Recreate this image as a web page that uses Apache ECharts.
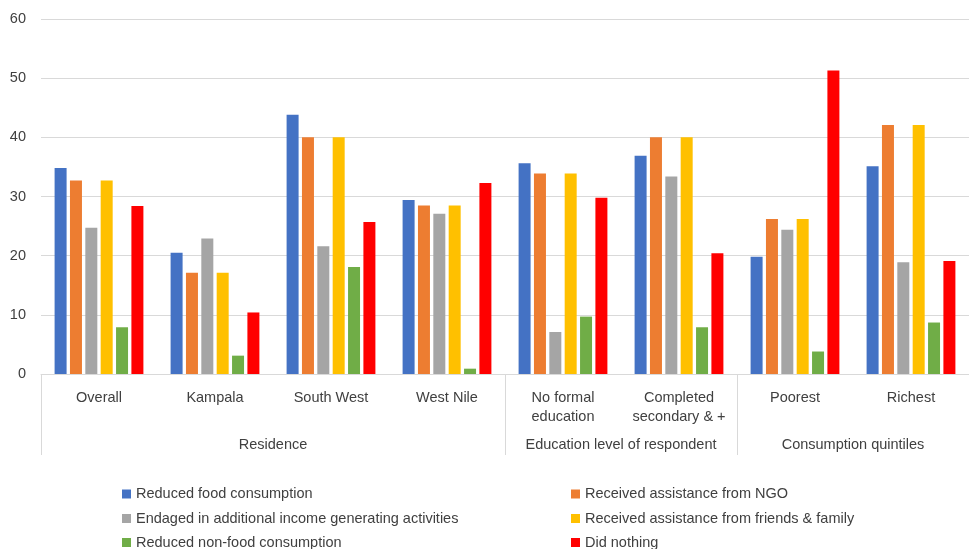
<!DOCTYPE html>
<html>
<head>
<meta charset="utf-8">
<script src="https://cdn.jsdelivr.net/npm/echarts@6/dist/echarts.min.js"></script>
<style>html,body{margin:0;padding:0;background:#fff;}#c{width:969px;height:549px;}</style>
</head>
<body>
<div id="c"></div>
<script>
var categories = ['Overall','Kampala','South West','West Nile','No formal\neducation','Completed\nsecondary & +','Poorest','Richest'];
var groupLabels = ['Residence','Education level of respondent','Consumption quintiles'];
var groupCenters = [2, 5, 7];
var groupBounds = [0, 4, 6, 8];
var yTicks = [0, 10, 20, 30, 40, 50, 60];

var seriesNames = ['Reduced food consumption','Received assistance from NGO','Endaged in additional income generating activities','Received assistance from friends & family','Reduced non-food consumption','Did nothing'];
var reducedFood = [34.8, 20.5, 43.8, 29.4, 35.6, 36.9, 19.8, 35.1];
var assistNGO = [32.7, 17.1, 40.0, 28.5, 33.9, 40.0, 26.2, 42.1];
var extraIncome = [24.7, 22.9, 21.6, 27.1, 7.1, 33.4, 24.4, 18.9];
var assistFriends = [32.7, 17.1, 40.0, 28.5, 33.9, 40.0, 26.2, 42.1];
var reducedNonFood = [7.9, 3.1, 18.1, 0.9, 9.7, 7.9, 3.8, 8.7];
var didNothing = [28.4, 10.4, 25.7, 32.3, 29.8, 20.4, 51.3, 19.1];

var colors = ['#4472C4','#ED7D31','#A5A5A5','#FFC000','#70AD47','#FF0000'];
var font = '"Liberation Sans", Arial, sans-serif';
var textColor = '#404040';
var fs = 14.5;

var allData = [reducedFood, assistNGO, extraIncome, assistFriends, reducedNonFood, didNothing];
var series = allData.map(function (d, i) {
  return {
    name: seriesNames[i], type: 'bar', data: d,
    xAxisIndex: 0, yAxisIndex: 0,
    barWidth: 12, barGap: '28%',
    itemStyle: { color: colors[i] }
  };
});

// legend layout: two columns, three rows
var legendCols = [122, 571];
var legendRows = [486.5, 511, 535];
var legends = seriesNames.map(function (n, i) {
  return {
    data: [n], orient: 'horizontal',
    left: legendCols[i % 2], top: legendRows[Math.floor(i / 2)],
    itemWidth: 9, itemHeight: 9, icon: 'rect', padding: 0, itemGap: 0,
    textStyle: { fontSize: fs, color: textColor, fontFamily: font, padding: [0, 0, 0, 0] }
  };
});

var chart = echarts.init(document.getElementById('c'), null, { renderer: 'canvas' });
chart.setOption({
  animation: false,
  textStyle: { fontFamily: font },
  grid: { left: 41, top: 19, width: 939, height: 355, containLabel: false },
  xAxis: [
    {
      type: 'category', data: categories, position: 'bottom',
      axisLine: { show: true, lineStyle: { color: '#D9D9D9', width: 1 } },
      axisTick: { show: false },
      axisLabel: { interval: 0, margin: 14, fontSize: fs, color: textColor, fontFamily: font, lineHeight: 19 }
    },
    {
      type: 'value', min: 0, max: 8, position: 'bottom', gridIndex: 0,
      axisLine: { show: false },
      splitLine: { show: false },
      axisTick: { show: true, length: 81, customValues: groupBounds, lineStyle: { color: '#D9D9D9', width: 1 } },
      axisLabel: {
        show: true, margin: 63, fontSize: fs, color: textColor, fontFamily: font,
        customValues: groupCenters,
        formatter: function (v) { var k = groupCenters.indexOf(v); return k >= 0 ? groupLabels[k] : ''; }
      }
    }
  ],
  yAxis: {
    type: 'value', min: yTicks[0], max: yTicks[yTicks.length - 1], interval: 10,
    axisLine: { show: false }, axisTick: { show: false },
    splitLine: { lineStyle: { color: '#D9D9D9', width: 1 } },
    axisLabel: { margin: 15, fontSize: fs, color: textColor, fontFamily: font }
  },
  legend: legends,
  series: series
});
</script>
</body>
</html>
